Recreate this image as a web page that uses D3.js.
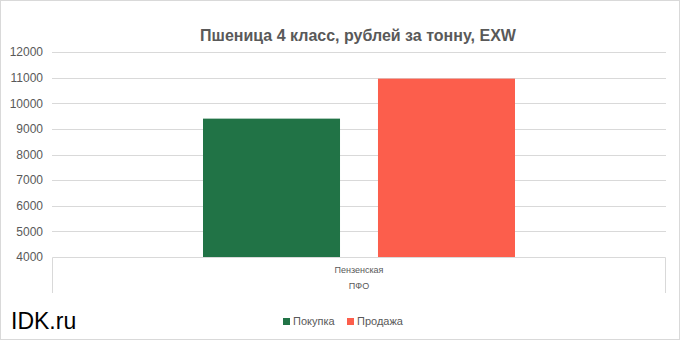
<!DOCTYPE html>
<html>
<head>
<meta charset="utf-8">
<script src="https://cdn.jsdelivr.net/npm/d3@7"></script>
<style>
  html, body { margin: 0; padding: 0; background: #fff; }
  svg { display: block; font-family: "Liberation Sans", Arial, sans-serif; }
</style>
</head>
<body>
<div id="chart"></div>
<script>
"use strict"

const regions = ["Пензенская"]
const districts = ["ПФО"]
const seriesNames = ["Покупка", "Продажа"]
const buyValues = [9400]
const sellValues = [10960]
const yTicks = [4000, 5000, 6000, 7000, 8000, 9000, 10000, 11000, 12000]
const colors = ["#217346", "#FC5E4C"]

const W = 681, H = 342
const plot = {left: 52, right: 666, top: 52, bottom: 257}

const svg = d3.select("#chart").append("svg")
  .attr("width", W)
  .attr("height", H)

// outer frame
svg.append("rect")
  .attr("x", 0.5).attr("y", 0.5)
  .attr("width", 679).attr("height", 339)
  .attr("fill", "#fff")
  .attr("stroke", "#d9d9d9")

// title
svg.append("text")
  .attr("x", 358).attr("y", 41)
  .attr("text-anchor", "middle")
  .attr("font-family", "'Liberation Sans', Arial, sans-serif")
  .attr("font-weight", "bold")
  .attr("font-size", 16)
  .attr("fill", "#595959")
  .text("Пшеница 4 класс, рублей за тонну, EXW")

const y = d3.scaleLinear()
  .domain([4000, 12000])
  .range([plot.bottom, plot.top])

const x0 = d3.scaleBand()
  .domain(regions)
  .range([plot.left, plot.right])
  .paddingInner(0)
  .paddingOuter(0.484)

const x1 = d3.scaleBand()
  .domain(seriesNames)
  .range([0, x0.bandwidth()])
  .paddingInner(0.217)
  .paddingOuter(0)

// gridlines
svg.append("g")
  .selectAll("line")
  .data(yTicks.slice(1))
  .join("line")
    .attr("x1", plot.left).attr("x2", plot.right)
    .attr("y1", d => Math.round(y(d)) + 0.5)
    .attr("y2", d => Math.round(y(d)) + 0.5)
    .attr("stroke", "#d9d9d9")

// y axis labels
const yAxis = svg.append("g")
  .attr("transform", "translate(" + plot.left + ",0)")
  .call(d3.axisLeft(y).tickValues(yTicks).tickSize(0).tickPadding(9).tickFormat(d3.format("d")))
yAxis.select(".domain").remove()
yAxis.selectAll("text")
  .attr("font-family", "'Liberation Sans', Arial, sans-serif")
  .attr("font-size", 12)
  .attr("fill", "#595959")

// bars
const rows = regions.map((r, i) => ({region: r, values: [buyValues[i], sellValues[i]]}))
const groups = svg.append("g")
  .selectAll("g")
  .data(rows)
  .join("g")
    .attr("transform", d => "translate(" + x0(d.region) + ",0)")
groups.selectAll("rect")
  .data(d => d.values.map((v, i) => ({name: seriesNames[i], value: v, color: colors[i]})))
  .join("rect")
    .attr("x", d => x1(d.name))
    .attr("width", x1.bandwidth())
    .attr("y", d => y(d.value))
    .attr("height", d => y(4000) - y(d.value))
    .attr("fill", d => d.color)

// category axis box (multi-level)
const axisY = Math.round(y(4000)) + 0.5
svg.append("path")
  .attr("d", "M" + (plot.left + 0.5) + "," + 293 + "V" + axisY + "H" + (plot.right - 0.5) + "V" + 293)
  .attr("fill", "none")
  .attr("stroke", "#d9d9d9")

svg.append("g")
  .selectAll("text")
  .data(regions)
  .join("text")
    .attr("x", d => x0(d) + x0.bandwidth() / 2)
    .attr("y", 273)
    .attr("text-anchor", "middle")
    .attr("font-size", 9)
    .attr("fill", "#595959")
    .text(d => d)

svg.append("text")
  .attr("x", (plot.left + plot.right) / 2)
  .attr("y", 289)
  .attr("text-anchor", "middle")
  .attr("font-size", 9)
  .attr("fill", "#595959")
  .text(districts[0])

// legend
const legendX = [283, 347]
const legend = svg.append("g")
  .selectAll("g")
  .data(seriesNames)
  .join("g")
    .attr("transform", (d, i) => "translate(" + legendX[i] + ",318)")
legend.append("rect")
  .attr("width", 7).attr("height", 7)
  .attr("fill", (d, i) => colors[i])
legend.append("text")
  .attr("x", 10).attr("y", 6.8)
  .attr("font-size", 11)
  .attr("fill", "#595959")
  .text(d => d)

// watermark
svg.append("text")
  .attr("x", 11).attr("y", 328.5)
  .attr("font-size", 23)
  .attr("fill", "#000")
  .text("IDK.ru")
</script>
</body>
</html>
